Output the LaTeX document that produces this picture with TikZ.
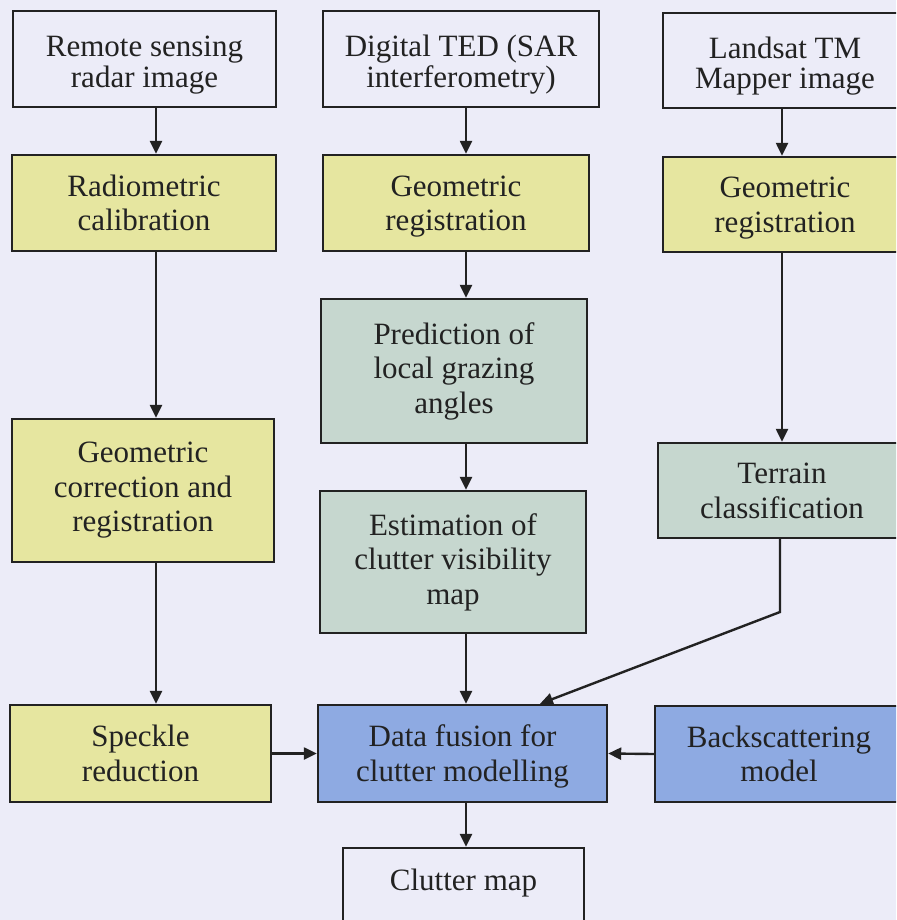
\documentclass[tikz,border=0pt]{standalone}
\usepackage{fontspec}
\setmainfont{Liberation Serif}
\usetikzlibrary{arrows.meta}
\definecolor{bgc}{HTML}{ECECF8}
\definecolor{yel}{HTML}{E6E6A0}
\definecolor{grn}{HTML}{C6D7CF}
\definecolor{blu}{HTML}{8EAAE2}
\definecolor{ink}{HTML}{222222}
\tikzset{
  box/.style={draw=ink, line width=2.4pt, rectangle, align=center, inner sep=2pt,
    text=ink, font=\fontsize{31}{34.5}\selectfont},
  plainbox/.style={box},
  yelbox/.style={box, fill=yel},
  grnbox/.style={box, fill=grn},
  blubox/.style={box, fill=blu},
  twoline/.style={text height=65pt, text depth=10pt},
  topline/.style={text height=67pt, text depth=10pt, font=\fontsize{31}{30.5}\selectfont},
  arr/.style={draw=ink, line width=2.4pt, -{Triangle[length=13pt,width=12pt]}},
}
\begin{document}
\begin{tikzpicture}[x=1pt,y=-1pt]
\useasboundingbox (0,0) rectangle (896,920);
\clip (0,0) rectangle (896,920);
\fill[bgc] (0,0) rectangle (896,920);

% left column
\node[plainbox, topline, minimum width=263pt, minimum height=96pt] (rs) at (144.5,59) {Remote sensing\\radar image};
\node[yelbox, twoline, minimum width=264pt, minimum height=96pt] (rc) at (144,203) {Radiometric\\calibration};
\node[yelbox, minimum width=262pt, minimum height=143pt] (gc) at (143,490.5) {Geometric\\correction and\\registration};
\node[yelbox, twoline, minimum width=261pt, minimum height=97pt] (sp) at (140.5,753.5) {Speckle\\reduction};

% middle column
\node[plainbox, topline, minimum width=276pt, minimum height=96pt] (ted) at (461,59) {Digital TED (SAR\\interferometry)};
\node[yelbox, twoline, minimum width=266pt, minimum height=96pt] (gr) at (456,203) {Geometric\\registration};
\node[grnbox, minimum width=266pt, minimum height=144pt] (pr) at (454,371) {Prediction of\\local grazing\\angles};
\node[grnbox, minimum width=266pt, minimum height=142pt] (es) at (453,562) {Estimation of\\clutter visibility\\map};
\node[blubox, twoline, minimum width=289pt, minimum height=97pt] (df) at (462.5,753.5) {Data fusion for\\clutter modelling};
\node[plainbox, minimum width=241pt, minimum height=95pt] (cm) at (463.5,895.5) {};
\node[text=ink, font=\fontsize{31}{34.5}\selectfont] (cmt) at (463.5,883) {Clutter map};

% right column
\node[plainbox, topline, minimum width=244pt, minimum height=95pt] (ls) at (785,60.5) {Landsat TM\\Mapper image};
\node[yelbox, twoline, minimum width=244pt, minimum height=95pt] (gr2) at (785,204.5) {Geometric\\registration};
\node[grnbox, twoline, minimum width=248pt, minimum height=95pt] (tc) at (782,490.5) {Terrain\\classification};
\node[blubox, twoline, minimum width=248pt, minimum height=96pt] (bs) at (779,754) {Backscattering\\model};

% column lines for arrows
\coordinate (xL) at (156,0);
\coordinate (xM) at (466,0);
\coordinate (xR) at (782,0);
\coordinate (bend) at (780,612);
\coordinate (xT) at (540,0);

\draw[arr] (rs.south -| xL) -- (rc.north -| xL);
\draw[arr] (rc.south -| xL) -- (gc.north -| xL);
\draw[arr] (gc.south -| xL) -- (sp.north -| xL);

\draw[arr] (ted.south -| xM) -- (gr.north -| xM);
\draw[arr] (gr.south -| xM) -- (pr.north -| xM);
\draw[arr] (pr.south -| xM) -- (es.north -| xM);
\draw[arr] (es.south -| xM) -- (df.north -| xM);
\draw[arr] (df.south -| xM) -- (cm.north -| xM);

\draw[arr] (ls.south -| xR) -- (gr2.north -| xR);
\draw[arr] (gr2.south -| xR) -- (tc.north -| xR);
\draw[arr, line join=miter] (tc.south -| bend) -- (bend) -- (df.north -| xT);

\draw[arr] (sp.east) -- (df.west);
\draw[arr] (bs.west) -- (df.east);
\end{tikzpicture}
\end{document}
